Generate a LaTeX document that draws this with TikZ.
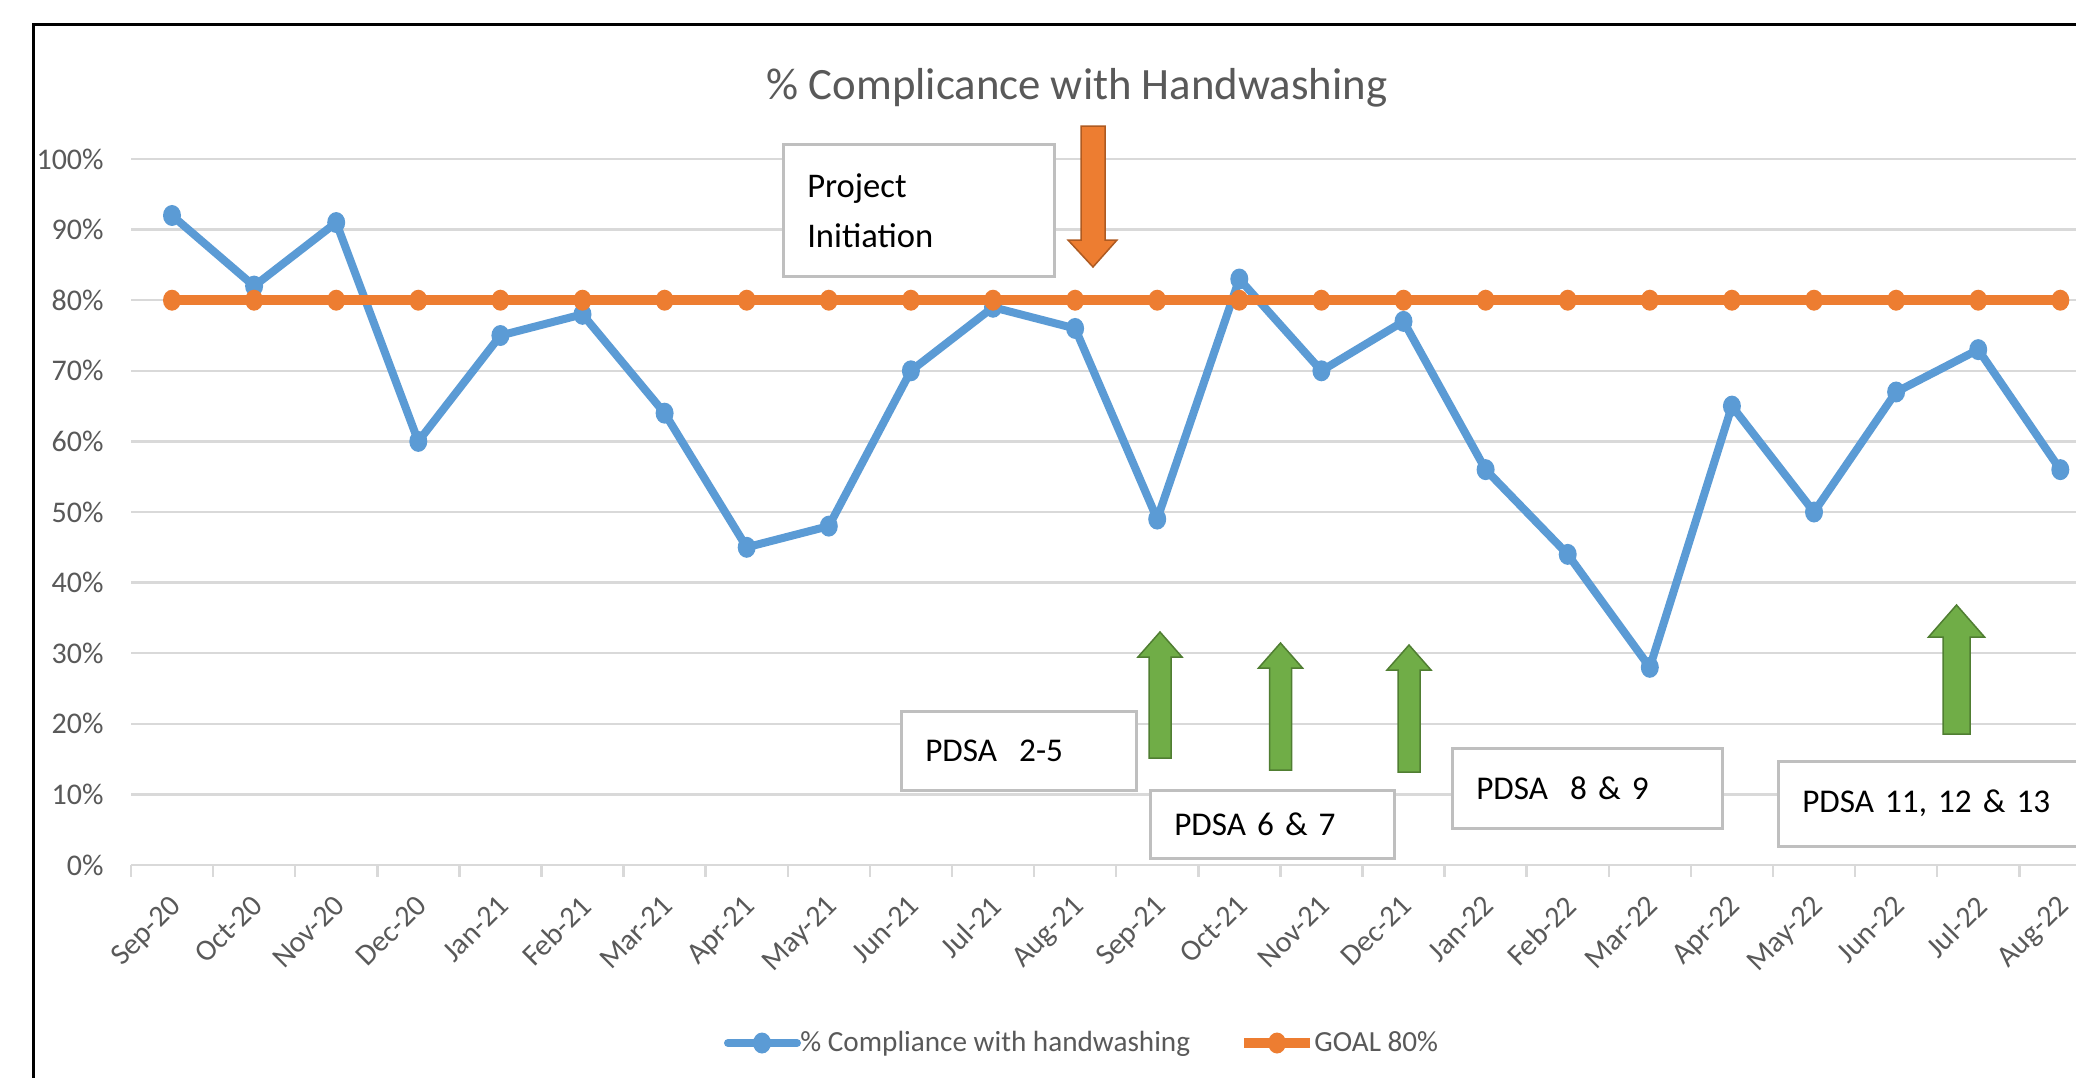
\documentclass[tikz,border=0pt]{standalone}
\usepackage{fontspec}
\setmainfont{Carlito}
\definecolor{cblue}{HTML}{5B9BD5}
\definecolor{corange}{HTML}{ED7D31}
\definecolor{corangeb}{HTML}{AE5A21}
\definecolor{cgreen}{HTML}{70AD47}
\definecolor{cgreenb}{HTML}{507E32}
\definecolor{cgrid}{HTML}{D9D9D9}
\definecolor{ctext}{HTML}{595959}
\definecolor{cbox}{HTML}{BFBFBF}
\tikzset{
  gridline/.style={draw=cgrid, line width=1.25pt},
  blueline/.style={draw=cblue, line width=4pt, line join=round, line cap=round},
  orangeline/.style={draw=corange, line width=5pt},
  axlab/.style={text=ctext, inner sep=0pt, font=\fontsize{15pt}{18pt}\selectfont},
  titlelab/.style={text=ctext, inner sep=0pt, font=\fontsize{22.4pt}{27pt}\selectfont},
  notebox/.style={draw=cbox, line width=1.25pt, fill=white, inner xsep=12pt, inner ysep=0pt,
    align=left, text=black, anchor=north west, font=\fontsize{16.6pt}{25pt}\selectfont},
  greenarr/.style={fill=cgreen, draw=cgreenb, line width=0.75pt},
  orangearr/.style={fill=corange, draw=corangeb, line width=0.75pt},
  bluemark/.style={fill=cblue},
  orangemark/.style={fill=corange}
}
\begin{document}
\begin{tikzpicture}[x=0.5pt,y=-0.5pt]
\useasboundingbox (0,0) rectangle (2076,1077);
\clip (0,0) rectangle (2076,1077);
\fill[white] (0,0) rectangle (2076,1077);
% outer frame
\draw[line width=1.5pt, black] (2110,24) -- (33,24) -- (33,1110);
% title
\node[titlelab, anchor=base] (title) at (1077,99) {\% Complicance with Handwashing};
% gridlines and y labels
\foreach \v/\t in {0/0,1/10,2/20,3/30,4/40,5/50,6/60,7/70,8/80,9/90,10/100}{
  \draw[gridline] (131,{865-70.6*\v}) -- (2110,{865-70.6*\v});
  \node[axlab, anchor=east] (y\v) at (104,{865-70.6*\v}) {\t\%};
}
% ticks
\foreach \i in {0,...,25}
  \draw[gridline] ({131+82.1*\i},865) -- ({131+82.1*\i},877);
% x labels
\foreach \m [count=\i from 0] in {Sep-20,Oct-20,Nov-20,Dec-20,Jan-21,Feb-21,Mar-21,Apr-21,May-21,Jun-21,Jul-21,Aug-21,Sep-21,Oct-21,Nov-21,Dec-21,Jan-22,Feb-22,Mar-22,Apr-22,May-22,Jun-22,Jul-22,Aug-22}
  \node[axlab, rotate=45, anchor=north east] (m\i) at ({168+82.1*\i},893) {\m};
% annotation boxes
\node[notebox, text width=111.5pt, minimum height=66pt, font=\fontsize{17.3pt}{25pt}\selectfont] (proj) at (782,143) {Project\\Initiation};
\node[notebox, text width=93.5pt, minimum height=39.5pt] (p25) at (900,710) {PDSA\ \ 2-5};
\node[notebox, text width=98pt, minimum height=34pt] (p67) at (1149,789) {PDSA 6 \& 7};
\node[notebox, text width=111pt, minimum height=40pt] (p89) at (1451,747) {PDSA\ \ 8 \& 9};
\node[notebox, text width=142.5pt, minimum height=42.5pt] (p1113) at (1777,760) {PDSA 11, 12 \& 13};
% orange down arrow
\draw[orangearr] (1081,126) -- (1105,126) -- (1105,240) -- (1117,240) -- (1093,267) -- (1068,240) -- (1081,240) -- cycle;
% green up arrows
\foreach \cx/\sw/\hw/\tip/\hb/\bot in {1160/11/22/632/657/758, 1280.5/11/22/643/668/770, 1409/11/22/645/670/772, 1956.5/13.5/28/605/637/734}
  \draw[greenarr] ({\cx-\sw},\bot) -- ({\cx-\sw},\hb) -- ({\cx-\hw},\hb) -- (\cx,\tip) -- ({\cx+\hw},\hb) -- ({\cx+\sw},\hb) -- ({\cx+\sw},\bot) -- cycle;
% data: compliance
\foreach \v [count=\i from 0] in {92,82,91,60,75,78,64,45,48,70,79,76,49,83,70,77,56,44,28,65,50,67,73,56}
  \coordinate (b\i) at ({172+82.1*\i},{865-7.06*\v});
\draw[blueline] (b0) \foreach \i in {1,...,23}{ -- (b\i)};
\foreach \i in {0,...,23}
  \fill[bluemark] (b\i) ellipse [x radius=9, y radius=10.5];
% data: goal
\foreach \i in {0,...,23}
  \coordinate (o\i) at ({172+82.1*\i},300.2);
\draw[orangeline] (o0) -- (o23);
\foreach \i in {0,...,23}
  \fill[orangemark] (o\i) ellipse [x radius=9, y radius=10.5];
% legend
\coordinate (lb1) at (728,1043);
\coordinate (lb2) at (797,1043);
\draw[blueline] (lb1) -- (lb2);
\fill[bluemark] (762,1043) ellipse [x radius=9, y radius=10.5];
\node[axlab, anchor=base west, font=\fontsize{14.6pt}{18pt}\selectfont] (lbt) at (800,1051) {\% Compliance with handwashing};
\coordinate (lo1) at (1244,1043);
\coordinate (lo2) at (1310,1043);
\draw[orangeline] (lo1) -- (lo2);
\fill[orangemark] (1277,1043) ellipse [x radius=9, y radius=10.5];
\node[axlab, anchor=base west, font=\fontsize{14.6pt}{18pt}\selectfont] (lot) at (1314,1051) {GOAL 80\%};
\end{tikzpicture}
\end{document}
